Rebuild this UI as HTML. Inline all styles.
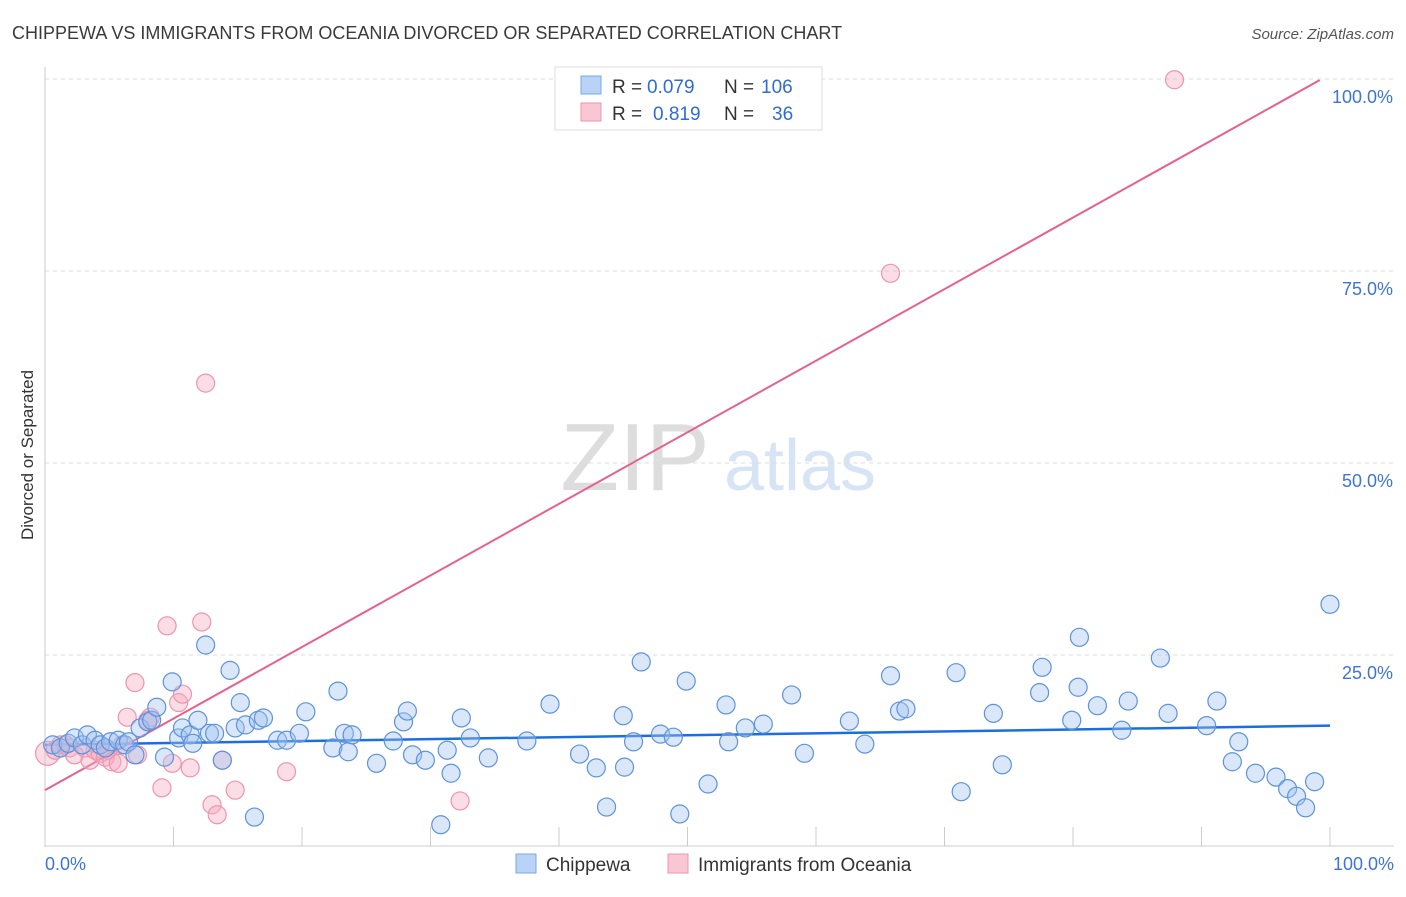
<!DOCTYPE html>
<html><head><meta charset="utf-8"><style>
body{margin:0;background:#fff;font-family:"Liberation Sans",sans-serif;}
svg text{font-family:"Liberation Sans",sans-serif;}
</style></head><body>
<svg id="chart" width="1406" height="892" xmlns="http://www.w3.org/2000/svg">
<text x="12" y="39" font-size="18" fill="#3a3a3a">CHIPPEWA VS IMMIGRANTS FROM OCEANIA DIVORCED OR SEPARATED CORRELATION CHART</text>
<text x="1394" y="39" font-size="15" fill="#555" font-style="italic" text-anchor="end">Source: ZipAtlas.com</text>
<text transform="translate(33,455) rotate(-90)" font-size="17" fill="#333" text-anchor="middle">Divorced or Separated</text>
<g>
<text x="635" y="490" font-size="96" fill="#ddd" font-family="Liberation Serif,serif" text-anchor="middle">ZIP</text>
<text x="800" y="490" font-size="72" fill="#d6e4f5" text-anchor="middle">atlas</text>
</g>
<g id="grid"></g><g id="axes"></g><g id="lines"></g><g id="pts"></g>
<g>
<rect x="555" y="67" width="267" height="63" fill="#fff" stroke="#ddd"/>
<rect x="581" y="76" width="20" height="18" fill="#b8d3f5" stroke="#7aa8e6"/>
<rect x="581" y="103" width="20" height="18" fill="#f9c6d4" stroke="#ee94ae"/>
<text x="612" y="93" font-size="19" fill="#333">R =</text>
<text x="647" y="93" font-size="19" fill="#2f6bd8">0.079</text>
<text x="724" y="93" font-size="19" fill="#333">N =</text>
<text x="761" y="93" font-size="19" fill="#2f6bd8">106</text>
<text x="612" y="120" font-size="19" fill="#333">R =</text>
<text x="653" y="120" font-size="19" fill="#2f6bd8">0.819</text>
<text x="724" y="120" font-size="19" fill="#333">N =</text>
<text x="772" y="120" font-size="19" fill="#2f6bd8">36</text>
</g>
<g>
<rect x="516" y="854" width="20" height="19" fill="#b8d3f5" stroke="#7aa8e6"/>
<text x="546" y="871" font-size="19" fill="#333">Chippewa</text>
<rect x="668" y="854" width="20" height="19" fill="#f9c6d4" stroke="#ee94ae"/>
<text x="698" y="871" font-size="19" fill="#333">Immigrants from Oceania</text>
</g>
</svg>
<script>
const blueX=[0.6,1.2,1.8,2.3,2.9,3.3,3.9,4.3,4.7,5.1,5.7,6.2,6.5,7.0,7.4,8.0,8.3,8.7,9.3,9.9,10.4,10.7,11.3,11.5,11.9,12.5,12.8,13.2,13.8,14.4,14.8,15.2,15.6,16.6,17.0,18.1,18.8,19.8,20.3,22.4,22.8,23.3,23.6,23.9,25.8,27.1,27.9,28.2,28.6,29.6,30.8,31.3,31.6,32.4,33.1,34.5,37.5,39.3,41.6,42.9,43.7,45.0,45.1,45.8,46.4,47.9,48.9,49.4,49.9,51.6,53.0,53.2,54.5,55.9,58.1,59.1,62.6,63.8,65.8,66.5,67.0,70.9,71.3,73.8,74.5,77.4,77.6,79.9,80.5,80.4,81.9,83.8,84.3,86.8,87.4,90.4,91.2,92.4,92.9,94.2,95.8,96.7,97.4,98.1,98.8,100,16.3];
const blueY=[13.3,12.9,13.5,14.2,13.3,14.6,13.9,13.3,12.9,13.7,13.9,13.3,13.7,12.0,15.5,16.3,16.5,18.2,11.7,21.5,14.2,15.5,14.6,13.5,16.5,26.3,14.8,14.8,11.3,23.0,15.5,18.8,15.9,16.5,16.8,13.9,13.9,14.8,17.6,12.9,20.3,14.8,12.4,14.6,10.9,13.8,16.3,17.7,12.0,11.3,2.9,12.6,9.6,16.8,14.2,11.6,13.8,18.6,12.1,10.3,5.2,17.1,10.4,13.7,24.1,14.7,14.3,4.3,21.6,8.2,18.5,13.7,15.5,16.0,19.8,12.2,16.4,13.4,22.3,17.7,18.0,22.7,7.2,17.4,10.7,20.1,23.4,16.5,27.3,20.8,18.4,15.2,19.0,24.6,17.4,15.8,19.0,11.1,13.7,9.6,9.1,7.6,6.6,5.1,8.5,31.6,3.9];
const pinkX=[0.2,0.8,1.2,1.6,1.9,2.3,3.1,3.5,3.9,4.3,4.7,4.9,5.2,5.7,6.0,6.4,7.0,7.2,8.0,8.2,9.1,9.5,9.9,10.4,10.7,11.3,12.2,12.5,13.0,13.4,13.8,14.8,18.8,32.3,65.8,87.9];
const pinkY=[12.2,12.6,13.3,13.3,12.9,12.0,12.9,11.3,12.6,12.2,11.7,12.6,11.1,10.9,13.3,16.9,21.4,12.0,16.5,16.9,7.7,28.8,10.9,18.8,19.9,10.3,29.3,60.4,5.5,4.2,11.3,7.4,9.8,6.0,74.7,99.9];
const blueTrend=[13.3,15.8];
const pinkTrend=[7.4,100.6];
const yTicks=[25,50,75,100];
const xTicks=[10,20,30,40,50,60,70,80,90,100];
const NS="http://www.w3.org/2000/svg";
const sx=v=>45+v*12.85, sy=v=>847-v*7.68;
function mk(t,a,p){const e=document.createElementNS(NS,t);for(const k in a)e.setAttribute(k,a[k]);document.getElementById(p).appendChild(e);return e;}
yTicks.forEach(t=>{
 const l=mk('line',{x1:45,x2:1394,y1:sy(t),y2:sy(t),stroke:'#ddd','stroke-dasharray':'4,4'},'grid');
 
 
 const tx=mk('text',{x:1393,y:sy(t)+24,'font-size':18,fill:'#3d74d6','text-anchor':'end'},'axes');
 tx.textContent=t.toFixed(1)+'%';
 
 
});
mk('line',{x1:45,x2:45,y1:67,y2:847,stroke:'#ccc'},'axes');
mk('line',{x1:45,x2:1394,y1:846,y2:846,stroke:'#ccc'},'axes');
xTicks.forEach(t=>{
 const l=mk('line',{x1:sx(t),x2:sx(t),y1:827,y2:846,stroke:'#ccc'},'axes');
 
 
});
[[0,'0.0%','start',45],[100,'100.0%','end',1394]].forEach(d=>{
 const tx=mk('text',{x:d[3],y:870,'font-size':18,fill:'#3d74d6','text-anchor':d[2]},'axes');
 tx.textContent=d[1];
 
 
});
function dots(X,Y,fill,stroke,name){X.forEach((x,i)=>{
 const c=mk('circle',{cx:sx(x),cy:sy(Y[i]),r:(name==='oceania-point'&&i===0)?12:9,fill:fill,stroke:stroke,'stroke-width':1.2},'pts');
 
 
});}
dots(pinkX,pinkY,'rgba(246,170,192,0.4)','#ef94ae','oceania-point');
dots(blueX,blueY,'rgba(160,195,240,0.4)','#5d92dd','chippewa-point');
const bl=mk('line',{x1:sx(0),y1:sy(blueTrend[0]),x2:sx(100),y2:sy(blueTrend[1]),stroke:'#1a6fe0','stroke-width':2.5},'lines');


const pl=mk('line',{x1:sx(0),y1:sy(pinkTrend[0]),x2:sx(99.2),y2:sy(pinkTrend[0]+(pinkTrend[1]-pinkTrend[0])*0.992),stroke:'#e8608c','stroke-width':2},'lines');


</script>
</body></html>
